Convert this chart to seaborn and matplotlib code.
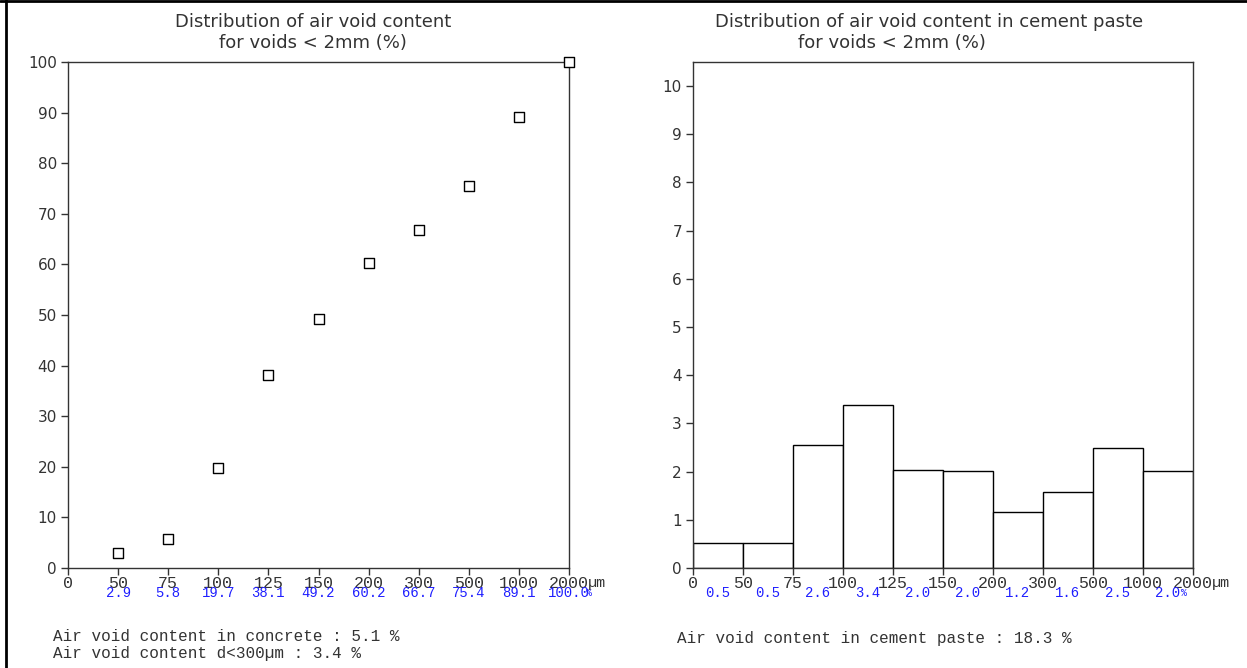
import numpy as np
import matplotlib
matplotlib.use("Agg")
import matplotlib.pyplot as plt
import seaborn as sns
from matplotlib.lines import Line2D

# ---------- data ----------
size_labels = ["0", "50", "75", "100", "125", "150", "200", "300", "500", "1000", "2000"]
cum_content = [2.9, 5.8, 19.7, 38.1, 49.2, 60.2, 66.7, 75.4, 89.1, 100.0]
cum_text = ["2.9", "5.8", "19.7", "38.1", "49.2", "60.2", "66.7", "75.4", "89.1", "100.0"]
paste_content = [0.52, 0.52, 2.55, 3.38, 2.03, 2.01, 1.17, 1.58, 2.50, 2.01]
paste_text = ["0.5", "0.5", "2.6", "3.4", "2.0", "2.0", "1.2", "1.6", "2.5", "2.0"]

title_left = ["Distribution of air void content", "for voids < 2mm (%)"]
title_right = ["Distribution of air void content in cement paste", "for voids < 2mm (%)"]
notes_left = "Air void content in concrete : 5.1 %\nAir void content d<300\u00b5m : 3.4 %"
notes_right = "Air void content in cement paste : 18.3 %"

sns.set_style("white")
plt.rcParams["font.family"] = ["DejaVu Sans"]

W, H = 1247, 668
fig = plt.figure(figsize=(W / 100, H / 100), dpi=100)

def box(x0, y0, x1, y1):
    return [x0 / W, 1 - y1 / H, (x1 - x0) / W, (y1 - y0) / H]

ax1 = fig.add_axes(box(68, 62, 569, 568))
ax2 = fig.add_axes(box(693, 62, 1193, 568))

mono = "Liberation Mono"
dark = "#333333"
blue = "#1f1fff"

# ---------- left: cumulative squares ----------
pos = np.arange(1, len(cum_content) + 1)
sns.scatterplot(x=pos, y=cum_content, ax=ax1, marker="s", s=60,
                facecolor="white", edgecolor="black", linewidth=1, clip_on=False, zorder=5)
ax1.set_xlim(0, 10)
ax1.set_ylim(0, 100)
ax1.set_yticks(np.arange(0, 101, 10))
ax1.set_xticks(np.arange(0, 11))
ax1.set_xticklabels(size_labels)
for i, t in enumerate(cum_text):
    ax1.annotate(t, (pos[i], 0), xycoords=("data", "axes fraction"),
                 xytext=(0, -25), textcoords="offset pixels", ha="center", va="center",
                 family=mono, fontsize=10, color=blue)
ax1.annotate("%", (pos[-1], 0), xycoords=("data", "axes fraction"),
             xytext=(17, -25), textcoords="offset pixels", ha="left", va="center",
             family=mono, fontsize=7, color=blue)

# ---------- right: histogram bars ----------
bar_pos = np.arange(len(paste_content))
sns.barplot(x=bar_pos, y=paste_content, ax=ax2, width=1, color="white",
            edgecolor="black", linewidth=1, native_scale=True)
ax2.set_xlim(-0.5, len(paste_content) - 0.5)
ax2.set_ylim(0, 10.5)
ax2.set_yticks(np.arange(0, 11, 1))
ax2.set_xticks(np.arange(-0.5, len(paste_content)))
ax2.set_xticklabels(size_labels)
for i, t in enumerate(paste_text):
    ax2.annotate(t, (bar_pos[i], 0), xycoords=("data", "axes fraction"),
                 xytext=(0, -25), textcoords="offset pixels", ha="center", va="center",
                 family=mono, fontsize=10, color=blue)
ax2.annotate("%", (bar_pos[-1], 0), xycoords=("data", "axes fraction"),
             xytext=(13, -25), textcoords="offset pixels", ha="left", va="center",
             family=mono, fontsize=7, color=blue)

for ax in (ax1, ax2):
    ax.set_xlabel(""); ax.set_ylabel("")
    ax.tick_params(axis="both", direction="out", length=5, width=1, color=dark,
                   left=True, bottom=True)
    ax.tick_params(axis="y", labelsize=11, labelcolor=dark, pad=3)
    ax.tick_params(axis="x", labelsize=12, labelcolor=dark, pad=1)
    for lab in ax.get_xticklabels():
        lab.set_family(mono)
    for sp in ax.spines.values():
        sp.set_visible(True)
        sp.set_color(dark)
        sp.set_linewidth(1)
    ax.annotate("\u00b5m", (1, 0), xycoords="axes fraction", xytext=(19, -15),
                textcoords="offset pixels", ha="left", va="center",
                family=mono, fontsize=11, color=dark)

# ---------- titles and notes ----------
tkw = dict(ha="center", va="center", family="DejaVu Sans", fontsize=13, color=dark)
fig.text(313 / W, 1 - 22 / H, title_left[0], **tkw)
fig.text(313 / W, 1 - 43 / H, title_left[1], **tkw)
fig.text(929 / W, 1 - 22 / H, title_right[0], **tkw)
fig.text(892 / W, 1 - 43 / H, title_right[1], **tkw)
fig.text(53 / W, 1 - 645 / H, notes_left, ha="left", va="center",
         family=mono, fontsize=11.5, color=dark, linespacing=1.1)
fig.text(677 / W, 1 - 638 / H, notes_right, ha="left", va="center",
         family=mono, fontsize=11.5, color=dark)

# outer frame (left and top edges of the original panel)
fig.add_artist(Line2D([5.5 / W, 5.5 / W], [0, 1], color="black", lw=2))
fig.add_artist(Line2D([0, 1], [1 - 1 / H, 1 - 1 / H], color="black", lw=2))

fig.savefig("out.png", dpi=100)
